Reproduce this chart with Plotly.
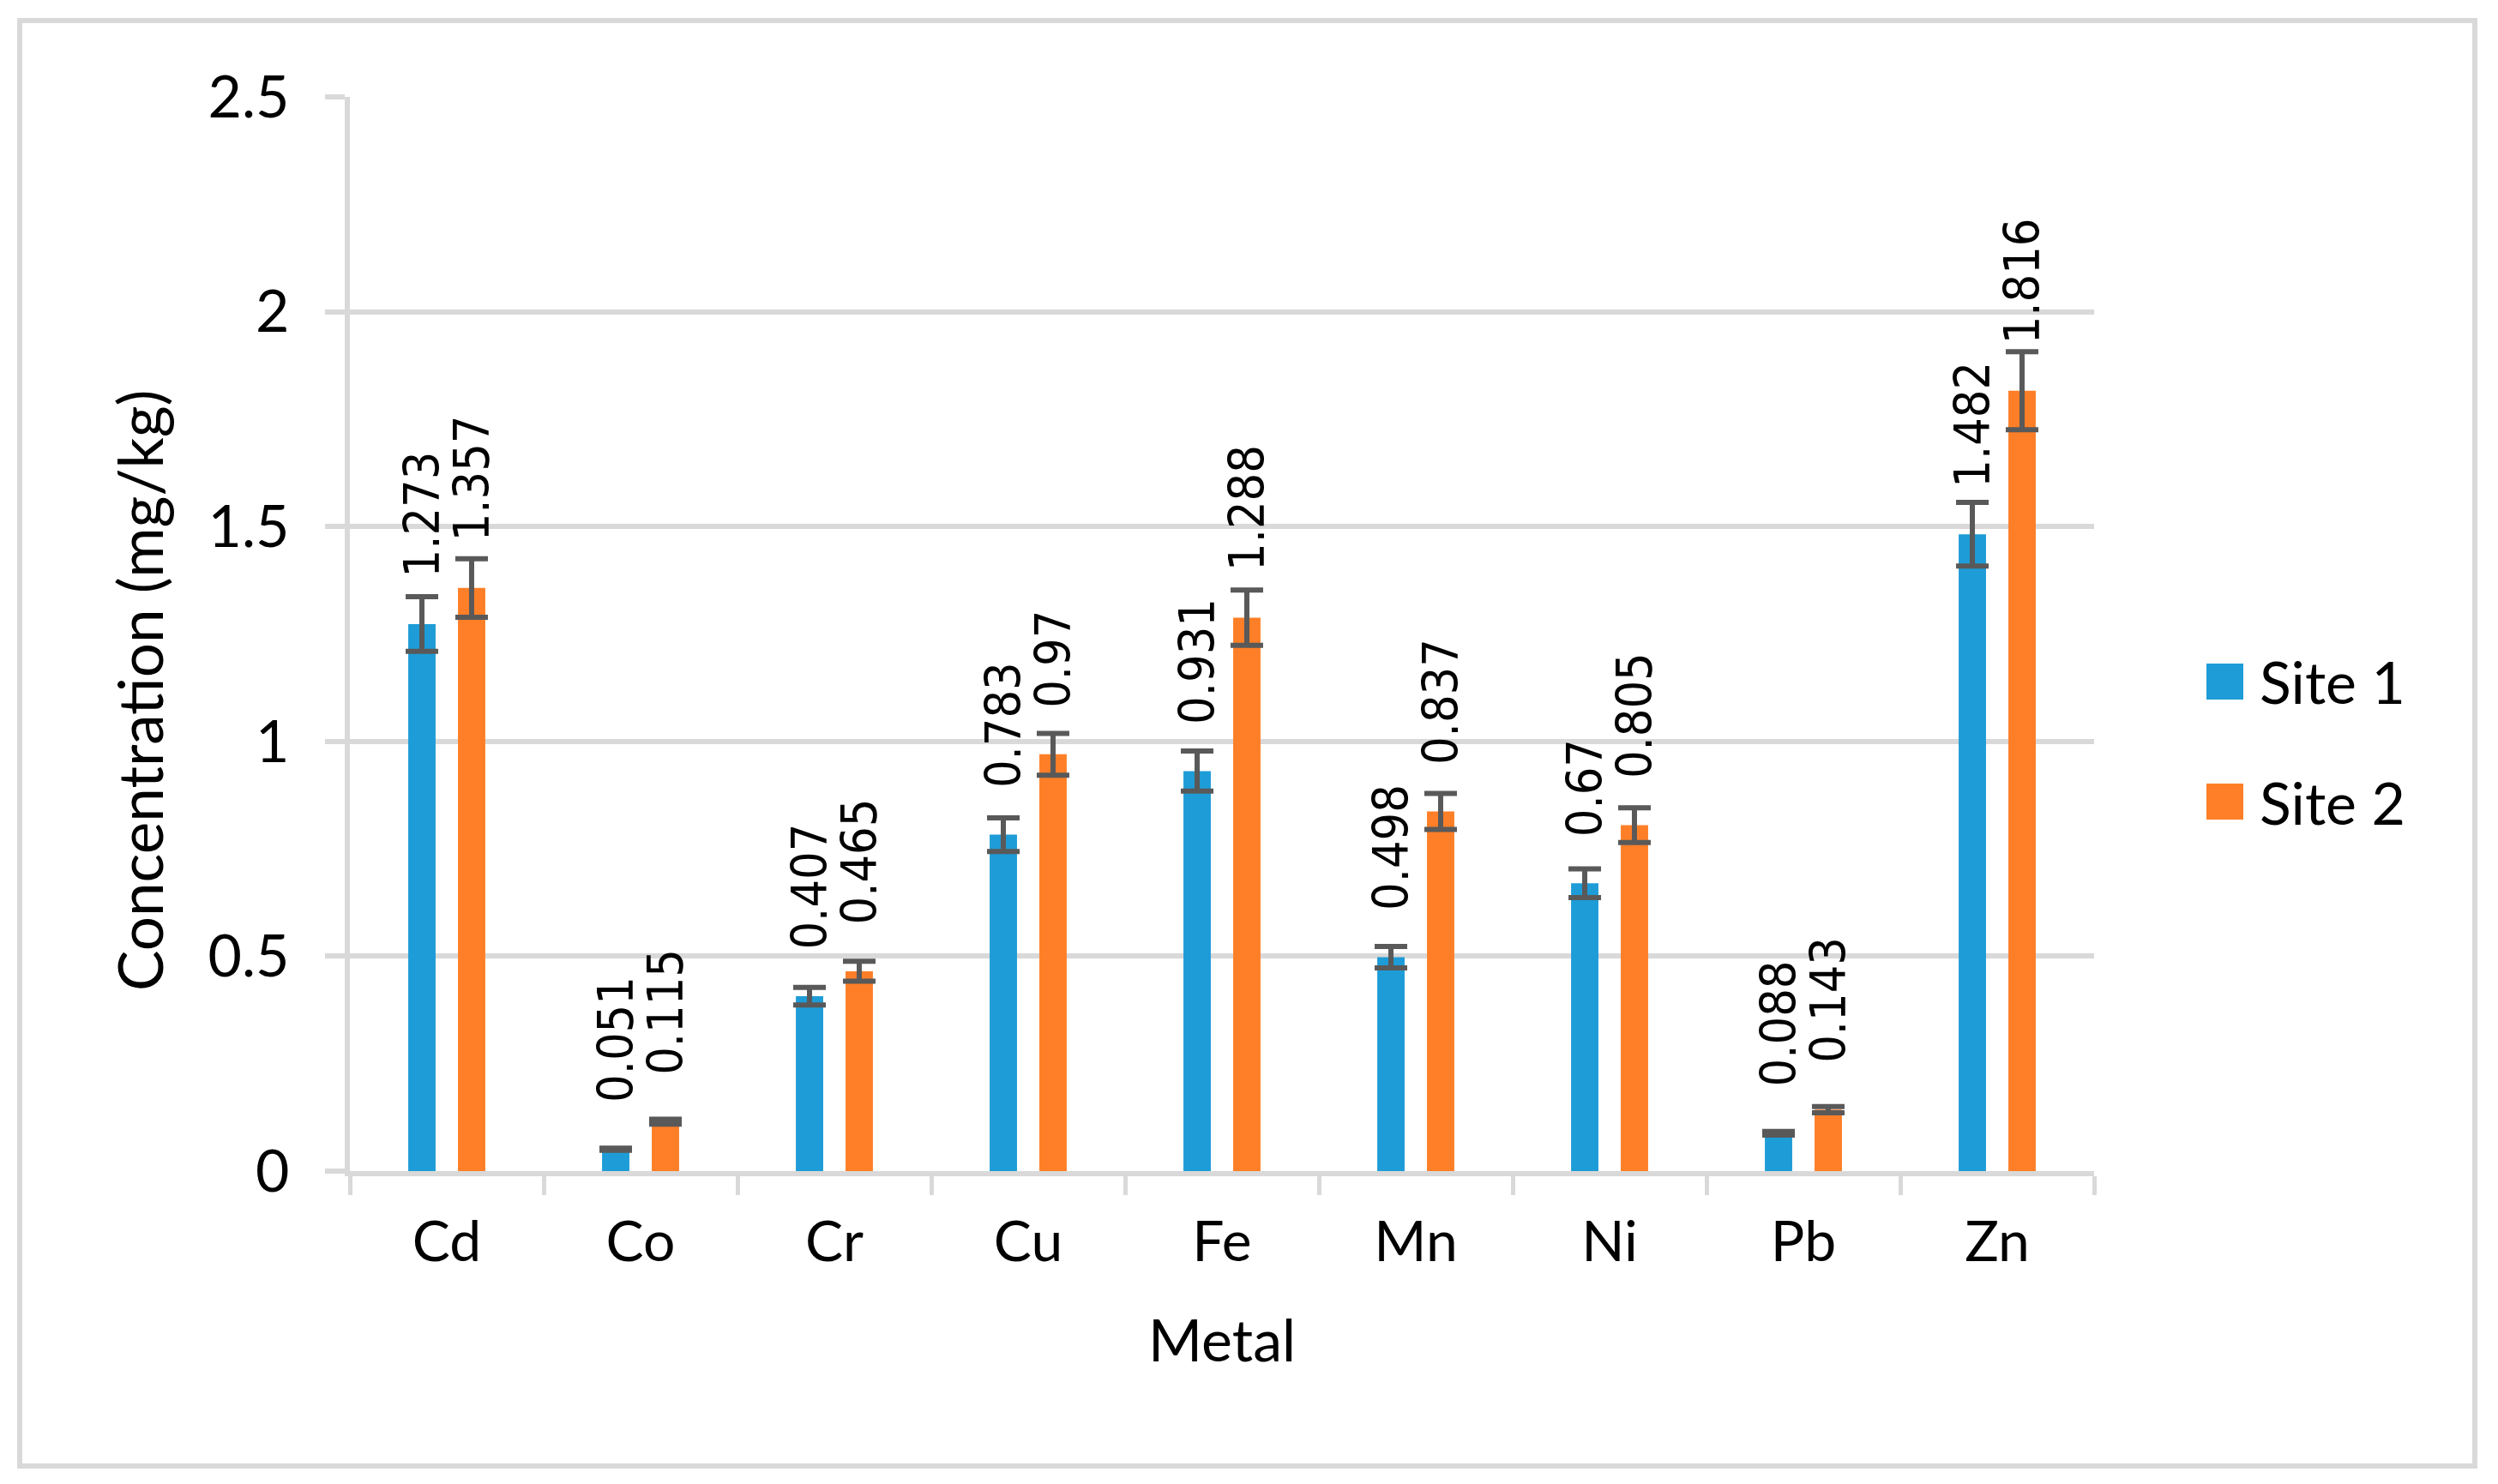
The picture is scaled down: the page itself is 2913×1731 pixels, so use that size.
import plotly.graph_objects as go

# ---- data ----
metals = ["Cd", "Co", "Cr", "Cu", "Fe", "Mn", "Ni", "Pb", "Zn"]
site1 = [1.273, 0.051, 0.407, 0.783, 0.931, 0.498, 0.670, 0.088, 1.482]
site2 = [1.357, 0.115, 0.465, 0.970, 1.288, 0.837, 0.805, 0.143, 1.816]
site1_labels = ["1.273", "0.051", "0.407", "0.783", "0.931", "0.498", "0.67", "0.088", "1.482"]
site2_labels = ["1.357", "0.115", "0.465", "0.97", "1.288", "0.837", "0.805", "0.143", "1.816"]
series_names = ["Site 1", "Site 2"]
y_ticks = [0, 0.5, 1, 1.5, 2, 2.5]
y_tick_text = ["0", "0.5", "1", "1.5", "2", "2.5"]
error_percent = 5

# ---- layout geometry (pixels in the screenshot; page body adds an 8px offset) ----
OFF = 8
W, H = 2913 - 2 * OFF, 1731 - 2 * OFF
L, R, T, B = 408 - OFF, 2442 - OFF, 113 - OFF, 1366 - OFF
PW, PH = R - L, B - T


def px_x(px):
    return (px - OFF - L) / PW


def px_y(py):
    return (B - (py - OFF)) / PH


BLUE = "#1E9CD7"
ORANGE = "#FE7F27"
GRID = "#D9D9D9"
ERR = "#595959"
FONT = "Lato"
LABEL_FONT = "DejaVu Sans Condensed, DejaVu Sans"

fig = go.Figure()
for name, vals, col in [(series_names[0], site1, BLUE), (series_names[1], site2, ORANGE)]:
    fig.add_trace(go.Bar(
        x=metals, y=vals, name=name, marker=dict(color=col, line=dict(width=0)),
        error_y=dict(type="percent", value=error_percent, color=ERR, thickness=6, width=19),
        showlegend=False,
    ))

annotations = []
for labels, vals, shift in [(site1_labels, site1, -29), (site2_labels, site2, 29)]:
    for m, v, t in zip(metals, vals, labels):
        annotations.append(dict(
            x=m, y=v, xref="x", yref="y", text=t, showarrow=False, textangle=-90,
            xanchor="center", yanchor="bottom", xshift=shift, yshift=52,
            font=dict(family=LABEL_FONT, size=57, color="black"),
        ))

# y title
annotations.append(dict(
    x=px_x(162), y=px_y(805), xref="paper", yref="paper", text="Concentration (mg/kg)",
    showarrow=False, textangle=-90, xanchor="center", yanchor="middle",
    font=dict(family=FONT, size=71, color="black"),
))

# legend (manual, large swatches)
shapes = []
for name, col, cy in [(series_names[0], BLUE, 795), (series_names[1], ORANGE, 935)]:
    shapes.append(dict(type="rect", xref="paper", yref="paper",
                       x0=px_x(2573), x1=px_x(2616), y0=px_y(cy + 21), y1=px_y(cy - 21),
                       fillcolor=col, line=dict(width=0)))
    annotations.append(dict(x=px_x(2633), y=px_y(cy), xref="paper", yref="paper", text=name,
                            showarrow=False, xanchor="left", yanchor="middle",
                            font=dict(family=FONT, size=68, color="black")))

# outer border
shapes.append(dict(type="rect", xref="paper", yref="paper",
                   x0=px_x(23), x1=px_x(2886), y0=px_y(1710), y1=px_y(24),
                   line=dict(color=GRID, width=6), fillcolor="rgba(0,0,0,0)", layer="below"))

fig.update_layout(
    width=W, height=H,
    margin=dict(l=L, r=W - R, t=T, b=H - B, autoexpand=False),
    paper_bgcolor="white", plot_bgcolor="white",
    barmode="group", bargap=0.487, bargroupgap=0.45,
    showlegend=False,
    font=dict(family=FONT, size=66, color="black"),
    annotations=annotations, shapes=shapes,
    xaxis=dict(
        type="category", showgrid=False, showline=True, linecolor=GRID, linewidth=6,
        ticks="outside", tickson="boundaries", ticklen=22, tickwidth=5, tickcolor=GRID,
        tickfont=dict(family=FONT, size=66, color="black"),
        ticklabelstandoff=20,
        title=dict(text="Metal", font=dict(family=FONT, size=68, color="black"), standoff=58),
        zeroline=False,
    ),
    yaxis=dict(
        range=[0, 2.5], tickvals=y_ticks, ticktext=y_tick_text,
        showgrid=True, gridcolor=GRID, gridwidth=6,
        showline=True, linecolor=GRID, linewidth=6,
        ticks="outside", ticklen=23, tickwidth=6, tickcolor=GRID,
        tickfont=dict(family=FONT, size=68, color="black"),
        ticklabelstandoff=28, zeroline=False,
    ),
)

fig.write_html("out.html")
